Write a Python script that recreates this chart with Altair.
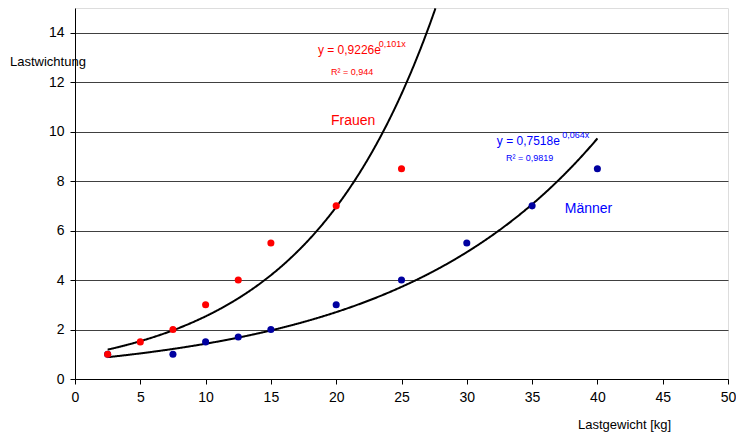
import altair as alt
import pandas as pd

# Data points
frauen_x = [2.5, 5, 7.5, 10, 12.5, 15, 20, 25]
frauen_y = [1.0, 1.5, 2.0, 3.0, 4.0, 5.5, 7.0, 8.5]
maenner_x = [2.5, 7.5, 10, 12.5, 15, 20, 25, 30, 35, 40]
maenner_y = [1.0, 1.0, 1.5, 1.7, 2.0, 3.0, 4.0, 5.5, 7.0, 8.5]

# Trendline coefficients (y = a * e^(b x)) as printed on the chart
frauen_fit = [0.9226, 0.101]
maenner_fit = [0.7518, 0.064]

x_ticks = [0, 5, 10, 15, 20, 25, 30, 35, 40, 45, 50]
y_ticks = [0, 2, 4, 6, 8, 10, 12, 14]

RED = "#ff0000"
BLUE = "#0000ff"
DOT_BLUE = "#0000a0"
FONT = "Liberation Sans"

pts = pd.concat([
    pd.DataFrame({"x": maenner_x, "y": maenner_y, "g": "Männer", "o": 0}),
    pd.DataFrame({"x": frauen_x, "y": frauen_y, "g": "Frauen", "o": 1}),
])

xs = alt.Scale(domain=[0, 50], nice=False)
ys = alt.Scale(domain=[0, 15], nice=False)

xax = alt.Axis(values=x_ticks, grid=False, title=None, labelFontSize=14, labelFont=FONT,
               labelColor="black", domainColor="black", tickColor="black", tickSize=5,
               labelPadding=6, labelFlush=False)
yax = alt.Axis(values=y_ticks, grid=True, gridColor="#404040", title=None, labelFontSize=14,
               labelFont=FONT, labelColor="black", domainColor="black", tickColor="black",
               tickSize=5, labelPadding=6)

base_axes = alt.Chart(pts).mark_point(opacity=0).encode(
    x=alt.X("x:Q", scale=xs, axis=xax),
    y=alt.Y("y:Q", scale=ys, axis=yax),
)

def curve(fit, x0, x1):
    return alt.Chart(alt.sequence(x0, x1, 0.05, as_="x")).transform_calculate(
        y=f"{fit[0]} * exp({fit[1]} * datum.x)"
    ).transform_filter("datum.y <= 15").mark_line(color="black", strokeWidth=2).encode(
        x=alt.X("x:Q", scale=xs), y=alt.Y("y:Q", scale=ys)
    )

curve_f = curve(frauen_fit, 2.5, 30)
curve_m = curve(maenner_fit, 2.5, 40.01)

points = alt.Chart(pts).mark_circle(size=50, opacity=1).encode(
    x=alt.X("x:Q", scale=xs),
    y=alt.Y("y:Q", scale=ys),
    color=alt.Color("g:N", scale=alt.Scale(domain=["Frauen", "Männer"], range=[RED, DOT_BLUE]), legend=None),
    order=alt.Order("o:Q"),
)

def label(text, x, y, color, size):
    return alt.Chart(pts).mark_text(text=text, color=color, fontSize=size, font=FONT,
                                     align="left", baseline="middle").encode(
        x=alt.datum(x, scale=xs), y=alt.datum(y, scale=ys)
    ).transform_filter("datum.o == 1 && datum.x == 2.5")

texts = [
    label("y = 0,9226e", 18.6, 13.3, RED, 12),
    label("0,101x", 23.25, 13.55, RED, 9),
    label("R² = 0,944", 19.6, 12.42, RED, 9),
    label("Frauen", 19.6, 10.44, RED, 14),
    label("y = 0,7518e", 32.3, 9.63, BLUE, 12),
    label("0,064x", 37.3, 9.87, BLUE, 9),
    label("R² = 0,9819", 33.0, 8.94, BLUE, 9),
    label("Männer", 37.5, 6.88, BLUE, 14),
]

def px_label(text, x, y):
    return alt.Chart(pts).mark_text(text=text, color="black", fontSize=13, font=FONT,
                                     align="left", baseline="middle").encode(
        x=alt.value(x), y=alt.value(y)
    ).transform_filter("datum.o == 1 && datum.x == 2.5")

ytitle = px_label("Lastwichtung", -65, 54)
xtitle = px_label("Lastgewicht [kg]", 503, 417)

chart = alt.layer(base_axes, curve_f, curve_m, points, *texts, ytitle, xtitle).properties(
    width=653, height=371,
    autosize=alt.AutoSizeParams(type="none"),
    padding={"left": 67, "top": 0, "right": 8, "bottom": 54},
).configure_view(stroke="#b0b0b0", strokeWidth=1).configure(background="white")

chart.save("out.html", embed_options={"renderer": "svg", "actions": False})
